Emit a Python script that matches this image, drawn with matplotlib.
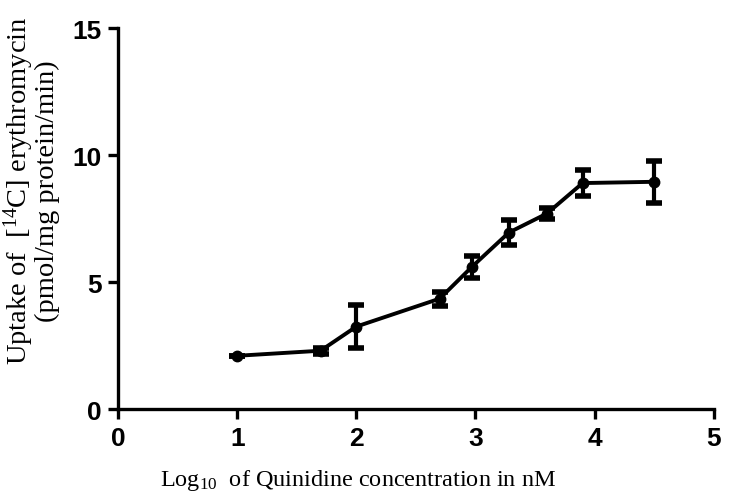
import matplotlib
matplotlib.use("Agg")
import matplotlib.pyplot as plt

# Data
log_conc = [1.0, 1.7, 2.0, 2.7, 2.97, 3.28, 3.6, 3.9, 4.5]
uptake = [2.1, 2.3, 3.25, 4.35, 5.6, 6.95, 7.7, 8.9, 8.95]
err = [0.0, 0.12, 0.85, 0.28, 0.42, 0.5, 0.2, 0.52, 0.83]
xticks = [0, 1, 2, 3, 4, 5]
yticks = [0, 5, 10, 15]

plt.rcParams['mathtext.fontset'] = 'custom'
plt.rcParams['mathtext.rm'] = 'Liberation Serif'
plt.rcParams['mathtext.it'] = 'Liberation Serif:italic'

fig = plt.figure(figsize=(7.29, 5.02), dpi=100)
ax = fig.add_axes([0.162, 0.183, 0.817, 0.759])

ax.errorbar(log_conc, uptake, yerr=err, color='black', lw=2.8, marker='o',
            markersize=7.5, capsize=6, capthick=4, elinewidth=3,
            solid_capstyle='round', dash_capstyle='round', zorder=3)

ax.set_xlim(0, 5)
ax.set_ylim(0, 15)
ax.set_xticks(xticks)
ax.set_yticks(yticks)
for s in ['top', 'right']:
    ax.spines[s].set_visible(False)
for s in ['left', 'bottom']:
    ax.spines[s].set_linewidth(2.4)
ax.tick_params(direction='out', length=7, width=2.4, pad=5)
for lab in ax.get_xticklabels() + ax.get_yticklabels():
    lab.set_fontfamily('Liberation Sans')
    lab.set_fontweight('bold')
    lab.set_fontsize(19)

ax.set_xlabel(r'Log$_{10}$  of Quinidine concentration in nM',
              fontfamily='Liberation Serif', fontsize=17.5)
ax.xaxis.set_label_coords(0.403, -0.152)
ax.set_ylabel('Uptake of  [$^{14}$C] erythromycin\n(pmol/mg protein/min)',
              fontfamily='Liberation Serif', fontsize=20.5, linespacing=0.92)
ax.yaxis.set_label_coords(-0.098, 0.575)

fig.savefig('out.png', dpi=100)
